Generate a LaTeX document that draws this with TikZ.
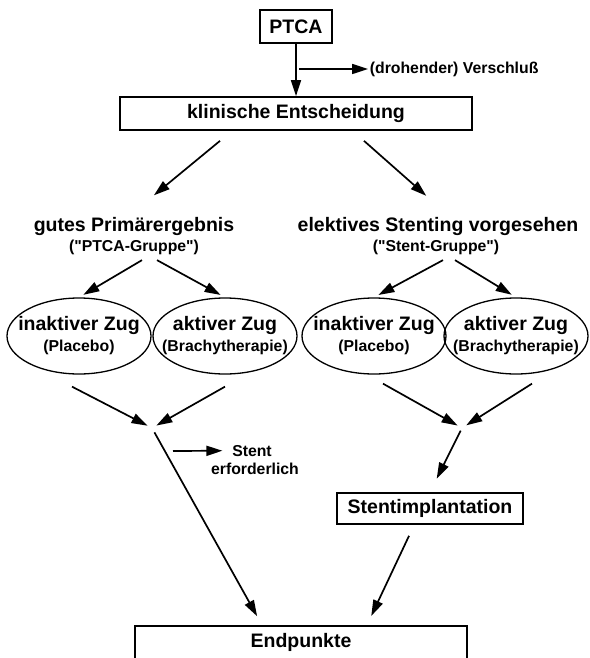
\documentclass[tikz,border=0pt]{standalone}
\usepackage{fontspec}
\setmainfont{Liberation Sans}
\usetikzlibrary{arrows.meta,shapes.geometric}

\newcommand{\bigfnt}{\fontsize{19.5}{21}\selectfont\bfseries}
\newcommand{\smfnt}{\fontsize{15.8}{18}\selectfont\bfseries}

\begin{document}
\begin{tikzpicture}[>={Triangle[length=16pt,width=10pt]},x=1pt,y=-1pt,line width=1.7pt,
  box/.style={draw,rectangle,inner sep=0pt,font=\bigfnt},
  oval/.style={draw,ellipse,line width=1.3pt,minimum width=144,minimum height=76,
    inner xsep=-20pt,inner ysep=0pt,align=center,font=\bigfnt},
  lbl/.style={inner sep=1pt,font=\bigfnt},
  sml/.style={inner sep=1pt,font=\smfnt}]

\useasboundingbox (0,0) rectangle (589,658);
\clip (0,0) rectangle (589,658);

% PTCA and decision
\node[box,minimum width=72,minimum height=33] (ptca) at (296,26.5) {PTCA};
\node[box,minimum width=352,minimum height=33] (klin) at (296,113.5) {klinische Entscheidung};
\draw[->] (ptca) -- (klin);
\coordinate (vs) at (299,69);
\node[sml,anchor=west] (versch) at (368,69) {(drohender) Verschluß};
\draw[->] (vs) -- (versch);

% two groups
\node[lbl,anchor=base] (gut) at (134,231) {gutes Primärergebnis};
\node[sml,anchor=base] (gutsub) at (134,251) {(\textquotedbl PTCA-Gruppe\textquotedbl)};
\node[lbl,anchor=base] (elek) at (438,231) {elektives Stenting vorgesehen};
\node[sml,anchor=base] (eleksub) at (436,251) {(\textquotedbl Stent-Gruppe\textquotedbl)};
\draw[->,shorten >=31pt] ([xshift=-76pt,yshift=-10pt]klin.south) -- ([xshift=-4pt]gut.north);
\draw[->,shorten >=29pt] ([xshift=68pt,yshift=-10pt]klin.south) -- ([xshift=10pt]elek.north);

% trains
\node[oval] (e1) at (79,336) {inaktiver Zug\\{\smfnt (Placebo)}};
\node[oval] (e2) at (225,336) {aktiver Zug\\{\smfnt (Brachytherapie)}};
\node[oval] (e3) at (374,336) {inaktiver Zug\\{\smfnt (Placebo)}};
\node[oval] (e4) at (516,336) {aktiver Zug\\{\smfnt (Brachytherapie)}};
\draw[->,shorten >=5pt] ([xshift=8pt,yshift=-4pt]gutsub.south) -- (e1.north);
\draw[->,shorten >=5pt] ([xshift=23pt,yshift=-4pt]gutsub.south) -- (e2.north);
\draw[->,shorten >=5pt] ([xshift=7pt,yshift=-4pt]eleksub.south) -- (e3.north);
\draw[->,shorten >=5pt] ([xshift=19pt,yshift=-4pt]eleksub.south) -- (e4.north);

% PTCA group merges
\coordinate (mL) at (152,428);
\draw[->,shorten >=5pt] ([xshift=-7pt,yshift=-12pt]e1.south) -- (mL);
\draw[->,shorten >=5pt] ([yshift=-12pt]e2.south) -- (mL);
\coordinate (se) at (173,451);
\node[sml,anchor=base] (stnt) at (252,456) {Stent};
\node[sml,anchor=base] (erf) at (255,474) {erforderlich};
\draw[->,shorten >=8pt] (se) -- (stnt);

% Stent group merges
\coordinate (mR) at (462,428);
\draw[->,shorten >=5pt] ([xshift=9pt,yshift=-9pt]e3.south) -- (mR);
\draw[->,shorten >=5pt] ([xshift=16pt,yshift=-9pt]e4.south) -- (mR);
\node[box,minimum width=186,minimum height=31] (stimp) at (430,508.5) {Stentimplantation};
\draw[->,shorten <=3pt,shorten >=15pt] (mR) -- (stimp.north);

% end points
\node[box,minimum width=332,anchor=north,text height=20pt,text depth=30pt,inner ysep=2pt] (endp) at (301,625) {Endpunkte};
\draw[->,shorten <=5pt,shorten >=10pt] (mL) -- ([xshift=-39pt]endp.north);
\draw[->,shorten >=10pt] ([xshift=-21pt,yshift=-11pt]stimp.south) -- ([xshift=66pt]endp.north);

\end{tikzpicture}
\end{document}
